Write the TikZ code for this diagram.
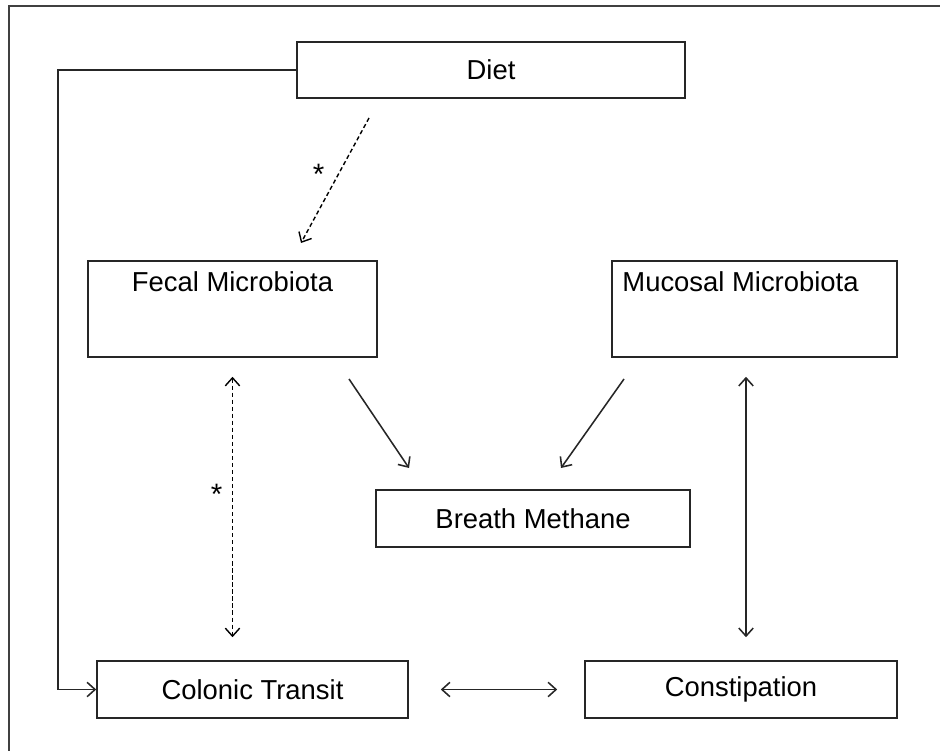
\documentclass[tikz,border=0pt]{standalone}
\usepackage{fontspec}
\setmainfont{Liberation Sans}
\usetikzlibrary{arrows.meta,positioning}
\tikzset{
  >={Straight Barb[length=2mm,width=3.6mm]},
  box/.style={draw=black!85,line width=1.1pt,fill=white,
    minimum height=1.425cm,font=\fontsize{19.5}{23}\selectfont},
  tallbox/.style={box,inner ysep=0pt,text height=0.775cm,text depth=1.625cm},
  link/.style={->,line width=1.1pt,draw=black!85},
  duallink/.style={<->,line width=1.1pt,draw=black!85},
  dashlink/.style={line width=1pt,draw=black,dash pattern=on 3pt off 2pt},
  starmark/.style={font=\fontsize{21}{23}\selectfont,inner sep=1pt},
}
\begin{document}
\begin{tikzpicture}
    \useasboundingbox (0,0) rectangle (23.5,-18.775);
    \draw[line width=1.1pt,black!75] (0.225,-18.775) -- (0.225,-0.15) -- (23.5,-0.15);
    % boxes
    \node[box,minimum width=9.7cm,minimum height=1.4cm] (diet) at (12.275,-1.75) {Diet};
    \node[tallbox,minimum width=7.225cm] (fecal) at (5.8125,-7.725) {Fecal Microbiota};
    \node[tallbox,minimum width=7.125cm] (mucosal) at (18.8625,-7.725) {Mucosal Microbiota\hspace*{0.7cm}};
    \node[box,minimum width=7.85cm] (methane) at (13.325,-12.9625) {Breath Methane};
    \node[box,minimum width=7.775cm] (colonic) at (6.3125,-17.2375) {Colonic Transit};
    \node[box,minimum width=7.8cm] (constip) at (18.525,-17.2375) {Constipation};
    % free ends
    \coordinate (bend) at (1.45,-1.75);
    \coordinate (d1) at (9.225,-2.95);
    \coordinate (d2) at (7.525,-6.075);
    \coordinate (f1) at (8.725,-9.475);
    \coordinate (f2) at (10.225,-11.7);
    \coordinate (m1) at (15.6,-9.475);
    \coordinate (m2) at (14.025,-11.7);
    % connectors
    \draw[link] (diet.west) -- (bend) |- (colonic.west);
    \draw[dashlink,->] (d1) -- node[starmark,pos=0.45,left=3mm] {*} (d2);
    \draw[dashlink,<->] ([yshift=-0.475cm]fecal.south) -- node[starmark,pos=0.45,left=2mm] {*} ([yshift=0.575cm]fecal.south |- colonic.north);
    \draw[link] (f1) -- (f2);
    \draw[link] (m1) -- (m2);
    \draw[duallink] ([yshift=-0.475cm]mucosal.south -| constip.north) ++(0.125,0) -- ([yshift=0.575cm,xshift=0.125cm]constip.north);
    \draw[duallink,shorten <=0.8cm,shorten >=0.675cm] (colonic.east) -- (constip.west);
  \end{tikzpicture}
\end{document}
